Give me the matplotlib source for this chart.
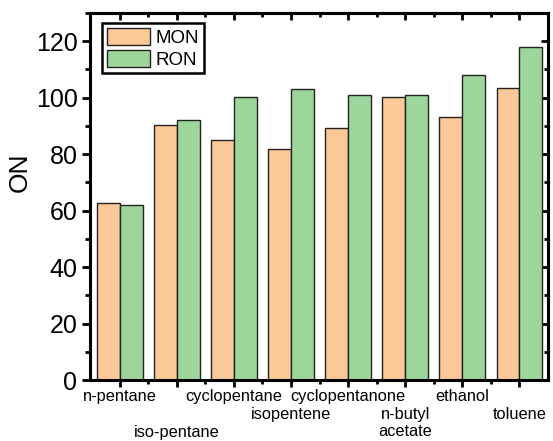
import matplotlib
matplotlib.use("Agg")
import matplotlib.pyplot as plt
import numpy as np
from matplotlib.ticker import MultipleLocator, FixedLocator
from matplotlib.transforms import ScaledTranslation, blended_transform_factory

plt.rcParams['font.family'] = ['Liberation Sans', 'DejaVu Sans']

categories = ["n-pentane", "iso-pentane", "cyclopentane", "isopentene",
              "cyclopentanone", "n-butyl\nacetate", "ethanol", "toluene"]
mon = [62.7, 90.4, 85.0, 82.0, 89.1, 100.1, 93.0, 103.6]
ron = [61.9, 92.1, 100.1, 103.1, 101.0, 101.0, 108.1, 118.0]
label_rows = [0, 2, 0, 1, 0, 1, 0, 1]   # staggered label rows under the axis

fig = plt.figure(figsize=(5.53, 4.41), dpi=100)
ax = fig.add_axes([90/553, 61/441, 458/553, 367/441])

x = np.arange(1, len(categories) + 1)
w = 0.4
c_mon = "#FBC898"
c_ron = "#9DD69A"
ax.bar(x - w/2, mon, w, color=c_mon, edgecolor="#222222", linewidth=1.0, label="MON")
ax.bar(x + w/2, ron, w, color=c_ron, edgecolor="#222222", linewidth=1.0, label="RON")

ax.set_xlim(0.48, 8.5)
ax.set_ylim(0, 130)
ax.set_xticks(x)
ax.set_xticklabels([])
trans = blended_transform_factory(ax.transData, ax.transAxes)
for xi, lab, r in zip(x, categories, label_rows):
    off = ScaledTranslation(0, -(0.09 + r * 0.178), fig.dpi_scale_trans)
    ax.text(xi, 0, lab, transform=trans + off, ha='center', va='top',
            fontsize=11.8, linespacing=1.2)
ax.xaxis.set_minor_locator(FixedLocator(x[:-1] + 0.5))
ax.yaxis.set_major_locator(MultipleLocator(20))
ax.yaxis.set_minor_locator(MultipleLocator(10))
ax.tick_params(axis='y', which='major', labelsize=18, length=6, width=2, direction='out', pad=3)
ax.tick_params(axis='y', which='minor', length=3.5, width=2, direction='out')
ax.tick_params(axis='x', which='major', length=5, width=2, direction='out', pad=2)
ax.tick_params(axis='x', which='minor', length=3, width=2, direction='out')

for s in ax.spines.values():
    s.set_linewidth(2.2)

# mirrored top and right ticks (inward)
axt = ax.secondary_xaxis('top')
axt.set_xticks(x)
axt.xaxis.set_minor_locator(FixedLocator(x[:-1] + 0.5))
axt.tick_params(which='major', direction='in', length=5, width=2, labeltop=False)
axt.tick_params(which='minor', direction='in', length=3, width=2)
axt.spines['top'].set_linewidth(2.2)
axr = ax.secondary_yaxis('right')
axr.yaxis.set_major_locator(MultipleLocator(20))
axr.yaxis.set_minor_locator(MultipleLocator(10))
axr.tick_params(which='major', direction='in', length=5, width=2, labelright=False)
axr.tick_params(which='minor', direction='in', length=3, width=2)
axr.spines['right'].set_linewidth(2.2)

ax.set_ylabel("ON", fontsize=19)
ax.yaxis.set_label_coords(-0.127, 0.567)

leg = ax.legend(loc='upper left', bbox_to_anchor=(0.026, 0.973), fontsize=13.5,
                frameon=True, fancybox=False, edgecolor='black', framealpha=1,
                borderaxespad=0, borderpad=0.25, handlelength=2.3, handleheight=1.05,
                handletextpad=0.3, labelspacing=0.15)
leg.get_frame().set_linewidth(1.8)

fig.savefig("out.png", dpi=100)
